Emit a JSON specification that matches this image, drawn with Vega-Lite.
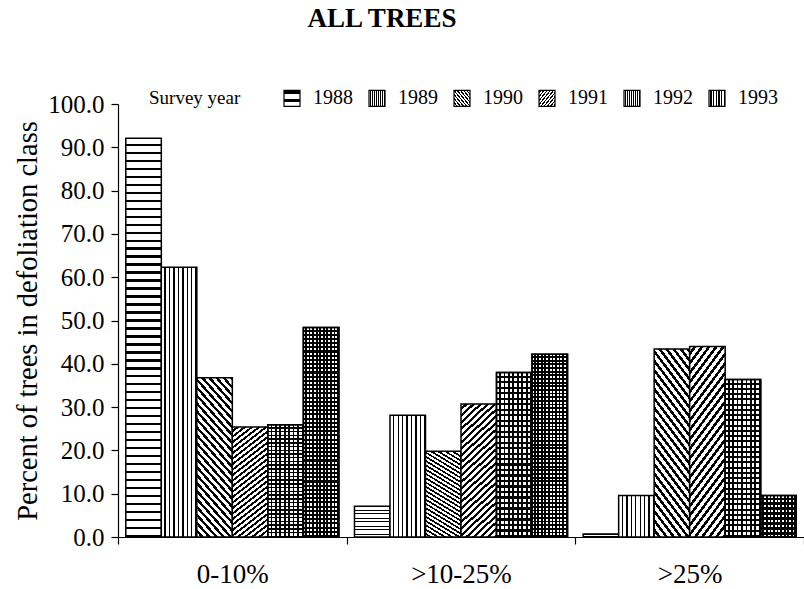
{
  "$schema": "https://vega.github.io/schema/vega-lite/v6.json",
  "width": 686,
  "height": 433,
  "autosize": {"type": "none"},
  "padding": {"left": 118, "top": 104, "right": 0, "bottom": 52},
  "title": {"text": "ALL TREES", "font": "Liberation Serif", "fontSize": 27, "fontWeight": "bold", "color": "black", "anchor": "middle", "frame": "group", "dx": -79, "dy": -51},
  "params": [
    {"name": "dstops", "expr": "[{offset:0,color:'#fff'},{offset:0.022,color:'#fff'},{offset:0.022,color:'#000'},{offset:0.04,color:'#000'},{offset:0.04,color:'#fff'},{offset:0.062,color:'#fff'},{offset:0.062,color:'#000'},{offset:0.08,color:'#000'},{offset:0.08,color:'#fff'},{offset:0.102,color:'#fff'},{offset:0.102,color:'#000'},{offset:0.12,color:'#000'},{offset:0.12,color:'#fff'},{offset:0.142,color:'#fff'},{offset:0.142,color:'#000'},{offset:0.16,color:'#000'},{offset:0.16,color:'#fff'},{offset:0.182,color:'#fff'},{offset:0.182,color:'#000'},{offset:0.2,color:'#000'},{offset:0.2,color:'#fff'},{offset:0.222,color:'#fff'},{offset:0.222,color:'#000'},{offset:0.24,color:'#000'},{offset:0.24,color:'#fff'},{offset:0.262,color:'#fff'},{offset:0.262,color:'#000'},{offset:0.28,color:'#000'},{offset:0.28,color:'#fff'},{offset:0.302,color:'#fff'},{offset:0.302,color:'#000'},{offset:0.32,color:'#000'},{offset:0.32,color:'#fff'},{offset:0.342,color:'#fff'},{offset:0.342,color:'#000'},{offset:0.36,color:'#000'},{offset:0.36,color:'#fff'},{offset:0.382,color:'#fff'},{offset:0.382,color:'#000'},{offset:0.4,color:'#000'},{offset:0.4,color:'#fff'},{offset:0.422,color:'#fff'},{offset:0.422,color:'#000'},{offset:0.44,color:'#000'},{offset:0.44,color:'#fff'},{offset:0.462,color:'#fff'},{offset:0.462,color:'#000'},{offset:0.48,color:'#000'},{offset:0.48,color:'#fff'},{offset:0.502,color:'#fff'},{offset:0.502,color:'#000'},{offset:0.52,color:'#000'},{offset:0.52,color:'#fff'},{offset:0.542,color:'#fff'},{offset:0.542,color:'#000'},{offset:0.56,color:'#000'},{offset:0.56,color:'#fff'},{offset:0.582,color:'#fff'},{offset:0.582,color:'#000'},{offset:0.6,color:'#000'},{offset:0.6,color:'#fff'},{offset:0.622,color:'#fff'},{offset:0.622,color:'#000'},{offset:0.64,color:'#000'},{offset:0.64,color:'#fff'},{offset:0.662,color:'#fff'},{offset:0.662,color:'#000'},{offset:0.68,color:'#000'},{offset:0.68,color:'#fff'},{offset:0.702,color:'#fff'},{offset:0.702,color:'#000'},{offset:0.72,color:'#000'},{offset:0.72,color:'#fff'},{offset:0.742,color:'#fff'},{offset:0.742,color:'#000'},{offset:0.76,color:'#000'},{offset:0.76,color:'#fff'},{offset:0.782,color:'#fff'},{offset:0.782,color:'#000'},{offset:0.8,color:'#000'},{offset:0.8,color:'#fff'},{offset:0.822,color:'#fff'},{offset:0.822,color:'#000'},{offset:0.84,color:'#000'},{offset:0.84,color:'#fff'},{offset:0.862,color:'#fff'},{offset:0.862,color:'#000'},{offset:0.88,color:'#000'},{offset:0.88,color:'#fff'},{offset:0.902,color:'#fff'},{offset:0.902,color:'#000'},{offset:0.92,color:'#000'},{offset:0.92,color:'#fff'},{offset:0.942,color:'#fff'},{offset:0.942,color:'#000'},{offset:0.96,color:'#000'},{offset:0.96,color:'#fff'},{offset:0.982,color:'#fff'},{offset:0.982,color:'#000'},{offset:1,color:'#000'}]"},
    {"name": "g88", "expr": "{gradient:'linear',id:'hatch1988',x1:0,y1:0,x2:0,y2:1,stops:[{offset:0,color:'#fff'},{offset:0.014,color:'#fff'},{offset:0.014,color:'#000'},{offset:0.02,color:'#000'},{offset:0.02,color:'#fff'},{offset:0.034,color:'#fff'},{offset:0.034,color:'#000'},{offset:0.04,color:'#000'},{offset:0.04,color:'#fff'},{offset:0.054,color:'#fff'},{offset:0.054,color:'#000'},{offset:0.06,color:'#000'},{offset:0.06,color:'#fff'},{offset:0.074,color:'#fff'},{offset:0.074,color:'#000'},{offset:0.08,color:'#000'},{offset:0.08,color:'#fff'},{offset:0.094,color:'#fff'},{offset:0.094,color:'#000'},{offset:0.1,color:'#000'},{offset:0.1,color:'#fff'},{offset:0.114,color:'#fff'},{offset:0.114,color:'#000'},{offset:0.12,color:'#000'},{offset:0.12,color:'#fff'},{offset:0.134,color:'#fff'},{offset:0.134,color:'#000'},{offset:0.14,color:'#000'},{offset:0.14,color:'#fff'},{offset:0.154,color:'#fff'},{offset:0.154,color:'#000'},{offset:0.16,color:'#000'},{offset:0.16,color:'#fff'},{offset:0.174,color:'#fff'},{offset:0.174,color:'#000'},{offset:0.18,color:'#000'},{offset:0.18,color:'#fff'},{offset:0.194,color:'#fff'},{offset:0.194,color:'#000'},{offset:0.2,color:'#000'},{offset:0.2,color:'#fff'},{offset:0.214,color:'#fff'},{offset:0.214,color:'#000'},{offset:0.22,color:'#000'},{offset:0.22,color:'#fff'},{offset:0.234,color:'#fff'},{offset:0.234,color:'#000'},{offset:0.24,color:'#000'},{offset:0.24,color:'#fff'},{offset:0.254,color:'#fff'},{offset:0.254,color:'#000'},{offset:0.26,color:'#000'},{offset:0.26,color:'#fff'},{offset:0.274,color:'#fff'},{offset:0.274,color:'#000'},{offset:0.28,color:'#000'},{offset:0.28,color:'#fff'},{offset:0.294,color:'#fff'},{offset:0.294,color:'#000'},{offset:0.3,color:'#000'},{offset:0.3,color:'#fff'},{offset:0.314,color:'#fff'},{offset:0.314,color:'#000'},{offset:0.32,color:'#000'},{offset:0.32,color:'#fff'},{offset:0.334,color:'#fff'},{offset:0.334,color:'#000'},{offset:0.34,color:'#000'},{offset:0.34,color:'#fff'},{offset:0.354,color:'#fff'},{offset:0.354,color:'#000'},{offset:0.36,color:'#000'},{offset:0.36,color:'#fff'},{offset:0.374,color:'#fff'},{offset:0.374,color:'#000'},{offset:0.38,color:'#000'},{offset:0.38,color:'#fff'},{offset:0.394,color:'#fff'},{offset:0.394,color:'#000'},{offset:0.4,color:'#000'},{offset:0.4,color:'#fff'},{offset:0.414,color:'#fff'},{offset:0.414,color:'#000'},{offset:0.42,color:'#000'},{offset:0.42,color:'#fff'},{offset:0.434,color:'#fff'},{offset:0.434,color:'#000'},{offset:0.44,color:'#000'},{offset:0.44,color:'#fff'},{offset:0.454,color:'#fff'},{offset:0.454,color:'#000'},{offset:0.46,color:'#000'},{offset:0.46,color:'#fff'},{offset:0.474,color:'#fff'},{offset:0.474,color:'#000'},{offset:0.48,color:'#000'},{offset:0.48,color:'#fff'},{offset:0.494,color:'#fff'},{offset:0.494,color:'#000'},{offset:0.5,color:'#000'},{offset:0.5,color:'#fff'},{offset:0.514,color:'#fff'},{offset:0.514,color:'#000'},{offset:0.52,color:'#000'},{offset:0.52,color:'#fff'},{offset:0.534,color:'#fff'},{offset:0.534,color:'#000'},{offset:0.54,color:'#000'},{offset:0.54,color:'#fff'},{offset:0.554,color:'#fff'},{offset:0.554,color:'#000'},{offset:0.56,color:'#000'},{offset:0.56,color:'#fff'},{offset:0.574,color:'#fff'},{offset:0.574,color:'#000'},{offset:0.58,color:'#000'},{offset:0.58,color:'#fff'},{offset:0.594,color:'#fff'},{offset:0.594,color:'#000'},{offset:0.6,color:'#000'},{offset:0.6,color:'#fff'},{offset:0.614,color:'#fff'},{offset:0.614,color:'#000'},{offset:0.62,color:'#000'},{offset:0.62,color:'#fff'},{offset:0.634,color:'#fff'},{offset:0.634,color:'#000'},{offset:0.64,color:'#000'},{offset:0.64,color:'#fff'},{offset:0.654,color:'#fff'},{offset:0.654,color:'#000'},{offset:0.66,color:'#000'},{offset:0.66,color:'#fff'},{offset:0.674,color:'#fff'},{offset:0.674,color:'#000'},{offset:0.68,color:'#000'},{offset:0.68,color:'#fff'},{offset:0.694,color:'#fff'},{offset:0.694,color:'#000'},{offset:0.7,color:'#000'},{offset:0.7,color:'#fff'},{offset:0.714,color:'#fff'},{offset:0.714,color:'#000'},{offset:0.72,color:'#000'},{offset:0.72,color:'#fff'},{offset:0.734,color:'#fff'},{offset:0.734,color:'#000'},{offset:0.74,color:'#000'},{offset:0.74,color:'#fff'},{offset:0.754,color:'#fff'},{offset:0.754,color:'#000'},{offset:0.76,color:'#000'},{offset:0.76,color:'#fff'},{offset:0.774,color:'#fff'},{offset:0.774,color:'#000'},{offset:0.78,color:'#000'},{offset:0.78,color:'#fff'},{offset:0.794,color:'#fff'},{offset:0.794,color:'#000'},{offset:0.8,color:'#000'},{offset:0.8,color:'#fff'},{offset:0.814,color:'#fff'},{offset:0.814,color:'#000'},{offset:0.82,color:'#000'},{offset:0.82,color:'#fff'},{offset:0.834,color:'#fff'},{offset:0.834,color:'#000'},{offset:0.84,color:'#000'},{offset:0.84,color:'#fff'},{offset:0.854,color:'#fff'},{offset:0.854,color:'#000'},{offset:0.86,color:'#000'},{offset:0.86,color:'#fff'},{offset:0.874,color:'#fff'},{offset:0.874,color:'#000'},{offset:0.88,color:'#000'},{offset:0.88,color:'#fff'},{offset:0.894,color:'#fff'},{offset:0.894,color:'#000'},{offset:0.9,color:'#000'},{offset:0.9,color:'#fff'},{offset:0.914,color:'#fff'},{offset:0.914,color:'#000'},{offset:0.92,color:'#000'},{offset:0.92,color:'#fff'},{offset:0.934,color:'#fff'},{offset:0.934,color:'#000'},{offset:0.94,color:'#000'},{offset:0.94,color:'#fff'},{offset:0.954,color:'#fff'},{offset:0.954,color:'#000'},{offset:0.96,color:'#000'},{offset:0.96,color:'#fff'},{offset:0.974,color:'#fff'},{offset:0.974,color:'#000'},{offset:0.98,color:'#000'},{offset:0.98,color:'#fff'},{offset:0.994,color:'#fff'},{offset:0.994,color:'#000'},{offset:1,color:'#000'}]}"},
    {"name": "g89", "expr": "{gradient:'linear',id:'hatch1989',x1:0,y1:0,x2:1,y2:0,stops:[{offset:0,color:'#fff'},{offset:0.0875,color:'#fff'},{offset:0.0875,color:'#000'},{offset:0.125,color:'#000'},{offset:0.125,color:'#fff'},{offset:0.2125,color:'#fff'},{offset:0.2125,color:'#000'},{offset:0.25,color:'#000'},{offset:0.25,color:'#fff'},{offset:0.3375,color:'#fff'},{offset:0.3375,color:'#000'},{offset:0.375,color:'#000'},{offset:0.375,color:'#fff'},{offset:0.4625,color:'#fff'},{offset:0.4625,color:'#000'},{offset:0.5,color:'#000'},{offset:0.5,color:'#fff'},{offset:0.5875,color:'#fff'},{offset:0.5875,color:'#000'},{offset:0.625,color:'#000'},{offset:0.625,color:'#fff'},{offset:0.7125,color:'#fff'},{offset:0.7125,color:'#000'},{offset:0.75,color:'#000'},{offset:0.75,color:'#fff'},{offset:0.8375,color:'#fff'},{offset:0.8375,color:'#000'},{offset:0.875,color:'#000'},{offset:0.875,color:'#fff'},{offset:0.9625,color:'#fff'},{offset:0.9625,color:'#000'},{offset:1,color:'#000'}]}"},
    {"name": "g90", "expr": "{gradient:'linear',id:'hatch1990',x1:0,y1:1,x2:0.294,y2:-0.176,stops:dstops}"},
    {"name": "g91", "expr": "{gradient:'linear',id:'hatch1991',x1:0,y1:0,x2:0.294,y2:1.176,stops:dstops}"},
    {"name": "g92", "expr": "{gradient:'linear',id:'hatch1992',x1:0,y1:0,x2:1,y2:0,stops:[{offset:0,color:'#fff'},{offset:0.075,color:'#fff'},{offset:0.075,color:'#000'},{offset:0.125,color:'#000'},{offset:0.125,color:'#fff'},{offset:0.2,color:'#fff'},{offset:0.2,color:'#000'},{offset:0.25,color:'#000'},{offset:0.25,color:'#fff'},{offset:0.325,color:'#fff'},{offset:0.325,color:'#000'},{offset:0.375,color:'#000'},{offset:0.375,color:'#fff'},{offset:0.45,color:'#fff'},{offset:0.45,color:'#000'},{offset:0.5,color:'#000'},{offset:0.5,color:'#fff'},{offset:0.575,color:'#fff'},{offset:0.575,color:'#000'},{offset:0.625,color:'#000'},{offset:0.625,color:'#fff'},{offset:0.7,color:'#fff'},{offset:0.7,color:'#000'},{offset:0.75,color:'#000'},{offset:0.75,color:'#fff'},{offset:0.825,color:'#fff'},{offset:0.825,color:'#000'},{offset:0.875,color:'#000'},{offset:0.875,color:'#fff'},{offset:0.95,color:'#fff'},{offset:0.95,color:'#000'},{offset:1,color:'#000'}]}"},
    {"name": "g93", "expr": "{gradient:'linear',id:'hatch1993',x1:0,y1:0,x2:1,y2:0,stops:[{offset:0,color:'#fff'},{offset:0.05,color:'#fff'},{offset:0.05,color:'#000'},{offset:0.1,color:'#000'},{offset:0.1,color:'#fff'},{offset:0.15,color:'#fff'},{offset:0.15,color:'#000'},{offset:0.2,color:'#000'},{offset:0.2,color:'#fff'},{offset:0.25,color:'#fff'},{offset:0.25,color:'#000'},{offset:0.3,color:'#000'},{offset:0.3,color:'#fff'},{offset:0.35,color:'#fff'},{offset:0.35,color:'#000'},{offset:0.4,color:'#000'},{offset:0.4,color:'#fff'},{offset:0.45,color:'#fff'},{offset:0.45,color:'#000'},{offset:0.5,color:'#000'},{offset:0.5,color:'#fff'},{offset:0.55,color:'#fff'},{offset:0.55,color:'#000'},{offset:0.6,color:'#000'},{offset:0.6,color:'#fff'},{offset:0.65,color:'#fff'},{offset:0.65,color:'#000'},{offset:0.7,color:'#000'},{offset:0.7,color:'#fff'},{offset:0.75,color:'#fff'},{offset:0.75,color:'#000'},{offset:0.8,color:'#000'},{offset:0.8,color:'#fff'},{offset:0.85,color:'#fff'},{offset:0.85,color:'#000'},{offset:0.9,color:'#000'},{offset:0.9,color:'#fff'},{offset:0.95,color:'#fff'},{offset:0.95,color:'#000'},{offset:1,color:'#000'}]}"},
    {"name": "g92h", "expr": "{gradient:'linear',id:'hatch1992h',x1:0,y1:0,x2:0,y2:1,stops:[{offset:0,color:'#0000'},{offset:0.02,color:'#0000'},{offset:0.02,color:'#000'},{offset:0.0333,color:'#000'},{offset:0.0333,color:'#0000'},{offset:0.0533,color:'#0000'},{offset:0.0533,color:'#000'},{offset:0.0667,color:'#000'},{offset:0.0667,color:'#0000'},{offset:0.0867,color:'#0000'},{offset:0.0867,color:'#000'},{offset:0.1,color:'#000'},{offset:0.1,color:'#0000'},{offset:0.12,color:'#0000'},{offset:0.12,color:'#000'},{offset:0.1333,color:'#000'},{offset:0.1333,color:'#0000'},{offset:0.1533,color:'#0000'},{offset:0.1533,color:'#000'},{offset:0.1667,color:'#000'},{offset:0.1667,color:'#0000'},{offset:0.1867,color:'#0000'},{offset:0.1867,color:'#000'},{offset:0.2,color:'#000'},{offset:0.2,color:'#0000'},{offset:0.22,color:'#0000'},{offset:0.22,color:'#000'},{offset:0.2333,color:'#000'},{offset:0.2333,color:'#0000'},{offset:0.2533,color:'#0000'},{offset:0.2533,color:'#000'},{offset:0.2667,color:'#000'},{offset:0.2667,color:'#0000'},{offset:0.2867,color:'#0000'},{offset:0.2867,color:'#000'},{offset:0.3,color:'#000'},{offset:0.3,color:'#0000'},{offset:0.32,color:'#0000'},{offset:0.32,color:'#000'},{offset:0.3333,color:'#000'},{offset:0.3333,color:'#0000'},{offset:0.3533,color:'#0000'},{offset:0.3533,color:'#000'},{offset:0.3667,color:'#000'},{offset:0.3667,color:'#0000'},{offset:0.3867,color:'#0000'},{offset:0.3867,color:'#000'},{offset:0.4,color:'#000'},{offset:0.4,color:'#0000'},{offset:0.42,color:'#0000'},{offset:0.42,color:'#000'},{offset:0.4333,color:'#000'},{offset:0.4333,color:'#0000'},{offset:0.4533,color:'#0000'},{offset:0.4533,color:'#000'},{offset:0.4667,color:'#000'},{offset:0.4667,color:'#0000'},{offset:0.4867,color:'#0000'},{offset:0.4867,color:'#000'},{offset:0.5,color:'#000'},{offset:0.5,color:'#0000'},{offset:0.52,color:'#0000'},{offset:0.52,color:'#000'},{offset:0.5333,color:'#000'},{offset:0.5333,color:'#0000'},{offset:0.5533,color:'#0000'},{offset:0.5533,color:'#000'},{offset:0.5667,color:'#000'},{offset:0.5667,color:'#0000'},{offset:0.5867,color:'#0000'},{offset:0.5867,color:'#000'},{offset:0.6,color:'#000'},{offset:0.6,color:'#0000'},{offset:0.62,color:'#0000'},{offset:0.62,color:'#000'},{offset:0.6333,color:'#000'},{offset:0.6333,color:'#0000'},{offset:0.6533,color:'#0000'},{offset:0.6533,color:'#000'},{offset:0.6667,color:'#000'},{offset:0.6667,color:'#0000'},{offset:0.6867,color:'#0000'},{offset:0.6867,color:'#000'},{offset:0.7,color:'#000'},{offset:0.7,color:'#0000'},{offset:0.72,color:'#0000'},{offset:0.72,color:'#000'},{offset:0.7333,color:'#000'},{offset:0.7333,color:'#0000'},{offset:0.7533,color:'#0000'},{offset:0.7533,color:'#000'},{offset:0.7667,color:'#000'},{offset:0.7667,color:'#0000'},{offset:0.7867,color:'#0000'},{offset:0.7867,color:'#000'},{offset:0.8,color:'#000'},{offset:0.8,color:'#0000'},{offset:0.82,color:'#0000'},{offset:0.82,color:'#000'},{offset:0.8333,color:'#000'},{offset:0.8333,color:'#0000'},{offset:0.8533,color:'#0000'},{offset:0.8533,color:'#000'},{offset:0.8667,color:'#000'},{offset:0.8667,color:'#0000'},{offset:0.8867,color:'#0000'},{offset:0.8867,color:'#000'},{offset:0.9,color:'#000'},{offset:0.9,color:'#0000'},{offset:0.92,color:'#0000'},{offset:0.92,color:'#000'},{offset:0.9333,color:'#000'},{offset:0.9333,color:'#0000'},{offset:0.9533,color:'#0000'},{offset:0.9533,color:'#000'},{offset:0.9667,color:'#000'},{offset:0.9667,color:'#0000'},{offset:0.9867,color:'#0000'},{offset:0.9867,color:'#000'},{offset:1,color:'#000'}]}"},
    {"name": "g93h", "expr": "{gradient:'linear',id:'hatch1993h',x1:0,y1:0,x2:0,y2:1,stops:[{offset:0,color:'#0000'},{offset:0.01,color:'#0000'},{offset:0.01,color:'#000'},{offset:0.02,color:'#000'},{offset:0.02,color:'#0000'},{offset:0.03,color:'#0000'},{offset:0.03,color:'#000'},{offset:0.04,color:'#000'},{offset:0.04,color:'#0000'},{offset:0.05,color:'#0000'},{offset:0.05,color:'#000'},{offset:0.06,color:'#000'},{offset:0.06,color:'#0000'},{offset:0.07,color:'#0000'},{offset:0.07,color:'#000'},{offset:0.08,color:'#000'},{offset:0.08,color:'#0000'},{offset:0.09,color:'#0000'},{offset:0.09,color:'#000'},{offset:0.1,color:'#000'},{offset:0.1,color:'#0000'},{offset:0.11,color:'#0000'},{offset:0.11,color:'#000'},{offset:0.12,color:'#000'},{offset:0.12,color:'#0000'},{offset:0.13,color:'#0000'},{offset:0.13,color:'#000'},{offset:0.14,color:'#000'},{offset:0.14,color:'#0000'},{offset:0.15,color:'#0000'},{offset:0.15,color:'#000'},{offset:0.16,color:'#000'},{offset:0.16,color:'#0000'},{offset:0.17,color:'#0000'},{offset:0.17,color:'#000'},{offset:0.18,color:'#000'},{offset:0.18,color:'#0000'},{offset:0.19,color:'#0000'},{offset:0.19,color:'#000'},{offset:0.2,color:'#000'},{offset:0.2,color:'#0000'},{offset:0.21,color:'#0000'},{offset:0.21,color:'#000'},{offset:0.22,color:'#000'},{offset:0.22,color:'#0000'},{offset:0.23,color:'#0000'},{offset:0.23,color:'#000'},{offset:0.24,color:'#000'},{offset:0.24,color:'#0000'},{offset:0.25,color:'#0000'},{offset:0.25,color:'#000'},{offset:0.26,color:'#000'},{offset:0.26,color:'#0000'},{offset:0.27,color:'#0000'},{offset:0.27,color:'#000'},{offset:0.28,color:'#000'},{offset:0.28,color:'#0000'},{offset:0.29,color:'#0000'},{offset:0.29,color:'#000'},{offset:0.3,color:'#000'},{offset:0.3,color:'#0000'},{offset:0.31,color:'#0000'},{offset:0.31,color:'#000'},{offset:0.32,color:'#000'},{offset:0.32,color:'#0000'},{offset:0.33,color:'#0000'},{offset:0.33,color:'#000'},{offset:0.34,color:'#000'},{offset:0.34,color:'#0000'},{offset:0.35,color:'#0000'},{offset:0.35,color:'#000'},{offset:0.36,color:'#000'},{offset:0.36,color:'#0000'},{offset:0.37,color:'#0000'},{offset:0.37,color:'#000'},{offset:0.38,color:'#000'},{offset:0.38,color:'#0000'},{offset:0.39,color:'#0000'},{offset:0.39,color:'#000'},{offset:0.4,color:'#000'},{offset:0.4,color:'#0000'},{offset:0.41,color:'#0000'},{offset:0.41,color:'#000'},{offset:0.42,color:'#000'},{offset:0.42,color:'#0000'},{offset:0.43,color:'#0000'},{offset:0.43,color:'#000'},{offset:0.44,color:'#000'},{offset:0.44,color:'#0000'},{offset:0.45,color:'#0000'},{offset:0.45,color:'#000'},{offset:0.46,color:'#000'},{offset:0.46,color:'#0000'},{offset:0.47,color:'#0000'},{offset:0.47,color:'#000'},{offset:0.48,color:'#000'},{offset:0.48,color:'#0000'},{offset:0.49,color:'#0000'},{offset:0.49,color:'#000'},{offset:0.5,color:'#000'},{offset:0.5,color:'#0000'},{offset:0.51,color:'#0000'},{offset:0.51,color:'#000'},{offset:0.52,color:'#000'},{offset:0.52,color:'#0000'},{offset:0.53,color:'#0000'},{offset:0.53,color:'#000'},{offset:0.54,color:'#000'},{offset:0.54,color:'#0000'},{offset:0.55,color:'#0000'},{offset:0.55,color:'#000'},{offset:0.56,color:'#000'},{offset:0.56,color:'#0000'},{offset:0.57,color:'#0000'},{offset:0.57,color:'#000'},{offset:0.58,color:'#000'},{offset:0.58,color:'#0000'},{offset:0.59,color:'#0000'},{offset:0.59,color:'#000'},{offset:0.6,color:'#000'},{offset:0.6,color:'#0000'},{offset:0.61,color:'#0000'},{offset:0.61,color:'#000'},{offset:0.62,color:'#000'},{offset:0.62,color:'#0000'},{offset:0.63,color:'#0000'},{offset:0.63,color:'#000'},{offset:0.64,color:'#000'},{offset:0.64,color:'#0000'},{offset:0.65,color:'#0000'},{offset:0.65,color:'#000'},{offset:0.66,color:'#000'},{offset:0.66,color:'#0000'},{offset:0.67,color:'#0000'},{offset:0.67,color:'#000'},{offset:0.68,color:'#000'},{offset:0.68,color:'#0000'},{offset:0.69,color:'#0000'},{offset:0.69,color:'#000'},{offset:0.7,color:'#000'},{offset:0.7,color:'#0000'},{offset:0.71,color:'#0000'},{offset:0.71,color:'#000'},{offset:0.72,color:'#000'},{offset:0.72,color:'#0000'},{offset:0.73,color:'#0000'},{offset:0.73,color:'#000'},{offset:0.74,color:'#000'},{offset:0.74,color:'#0000'},{offset:0.75,color:'#0000'},{offset:0.75,color:'#000'},{offset:0.76,color:'#000'},{offset:0.76,color:'#0000'},{offset:0.77,color:'#0000'},{offset:0.77,color:'#000'},{offset:0.78,color:'#000'},{offset:0.78,color:'#0000'},{offset:0.79,color:'#0000'},{offset:0.79,color:'#000'},{offset:0.8,color:'#000'},{offset:0.8,color:'#0000'},{offset:0.81,color:'#0000'},{offset:0.81,color:'#000'},{offset:0.82,color:'#000'},{offset:0.82,color:'#0000'},{offset:0.83,color:'#0000'},{offset:0.83,color:'#000'},{offset:0.84,color:'#000'},{offset:0.84,color:'#0000'},{offset:0.85,color:'#0000'},{offset:0.85,color:'#000'},{offset:0.86,color:'#000'},{offset:0.86,color:'#0000'},{offset:0.87,color:'#0000'},{offset:0.87,color:'#000'},{offset:0.88,color:'#000'},{offset:0.88,color:'#0000'},{offset:0.89,color:'#0000'},{offset:0.89,color:'#000'},{offset:0.9,color:'#000'},{offset:0.9,color:'#0000'},{offset:0.91,color:'#0000'},{offset:0.91,color:'#000'},{offset:0.92,color:'#000'},{offset:0.92,color:'#0000'},{offset:0.93,color:'#0000'},{offset:0.93,color:'#000'},{offset:0.94,color:'#000'},{offset:0.94,color:'#0000'},{offset:0.95,color:'#0000'},{offset:0.95,color:'#000'},{offset:0.96,color:'#000'},{offset:0.96,color:'#0000'},{offset:0.97,color:'#0000'},{offset:0.97,color:'#000'},{offset:0.98,color:'#000'},{offset:0.98,color:'#0000'},{offset:0.99,color:'#0000'},{offset:0.99,color:'#000'},{offset:1,color:'#000'}]}"}
  ],
  "data": {
    "values": [
      {"class": "0-10%", "year": "1988", "pct": 92.1},
      {"class": "0-10%", "year": "1989", "pct": 62.3},
      {"class": "0-10%", "year": "1990", "pct": 36.8},
      {"class": "0-10%", "year": "1991", "pct": 25.4},
      {"class": "0-10%", "year": "1992", "pct": 25.9},
      {"class": "0-10%", "year": "1993", "pct": 48.4},
      {"class": ">10-25%", "year": "1988", "pct": 7.1},
      {"class": ">10-25%", "year": "1989", "pct": 28.1},
      {"class": ">10-25%", "year": "1990", "pct": 19.8},
      {"class": ">10-25%", "year": "1991", "pct": 30.7},
      {"class": ">10-25%", "year": "1992", "pct": 38.0},
      {"class": ">10-25%", "year": "1993", "pct": 42.2},
      {"class": ">25%", "year": "1988", "pct": 0.7},
      {"class": ">25%", "year": "1989", "pct": 9.6},
      {"class": ">25%", "year": "1990", "pct": 43.4},
      {"class": ">25%", "year": "1991", "pct": 44.0},
      {"class": ">25%", "year": "1992", "pct": 36.4},
      {"class": ">25%", "year": "1993", "pct": 9.6}
    ]
  },
  "encoding": {
    "x": {
      "field": "class", "type": "nominal", "sort": ["0-10%", ">10-25%", ">25%"],
      "scale": {"paddingInner": 0, "paddingOuter": 0},
      "axis": {"title": null, "labelAngle": 0, "labelFontSize": 27, "labelPadding": 17, "tickSize": 7, "tickBand": "extent"}
    },
    "xOffset": {
      "field": "year", "type": "nominal",
      "scale": {"domain": ["1988", "1989", "1990", "1991", "1992", "1993"], "paddingInner": 0, "paddingOuter": 0.22}
    },
    "y": {
      "field": "pct", "type": "quantitative",
      "scale": {"domain": [0, 100], "nice": false},
      "axis": {"title": "Percent of trees in defoliation class", "values": [0, 10, 20, 30, 40, 50, 60, 70, 80, 90, 100], "format": ".1f", "labelFontSize": 25, "labelPadding": 7, "tickSize": 7, "titleFontSize": 28.5, "titleFontWeight": "normal", "titlePadding": 5, "grid": false}
    }
  },
  "layer": [
    {
      "mark": {"type": "bar", "stroke": "black", "strokeWidth": 1.5},
      "encoding": {
        "fill": {
          "field": "year", "type": "nominal",
          "scale": {
            "domain": ["1988", "1989", "1990", "1991", "1992", "1993"],
            "range": [{"expr": "g88"}, {"expr": "g89"}, {"expr": "g90"}, {"expr": "g91"}, {"expr": "g92"}, {"expr": "g93"}]
          },
          "legend": {"title": "Survey year"}
        }
      }
    },
    {
      "transform": [{"filter": "datum.year === '1992'"}],
      "mark": {"type": "bar", "stroke": "black", "strokeWidth": 1.5, "fill": {"expr": "g92h"}}
    },
    {
      "transform": [{"filter": "datum.year === '1993'"}],
      "mark": {"type": "bar", "stroke": "black", "strokeWidth": 1.5, "fill": {"expr": "g93h"}}
    }
  ],
  "config": {
    "font": "Liberation Serif",
    "view": {"stroke": null},
    "axis": {"labelFont": "Liberation Serif", "titleFont": "Liberation Serif", "labelColor": "black", "titleColor": "black", "domainColor": "black", "tickColor": "black", "domainWidth": 1.2, "tickWidth": 1.2},
    "legend": {
      "orient": "none", "legendX": 31, "legendY": -16, "direction": "horizontal", "columns": 6,
      "titleOrient": "left", "titleAnchor": "middle", "titleBaseline": "middle", "titlePadding": 41,
      "titleFont": "Liberation Serif", "titleFontSize": 19, "titleFontWeight": "normal", "titleColor": "black",
      "labelFont": "Liberation Serif", "labelFontSize": 20, "labelColor": "black", "labelOffset": 11,
      "symbolType": "square", "symbolSize": 256, "symbolStrokeColor": "black", "symbolStrokeWidth": 1.2, "symbolOpacity": 1,
      "columnPadding": 13
    }
  }
}
